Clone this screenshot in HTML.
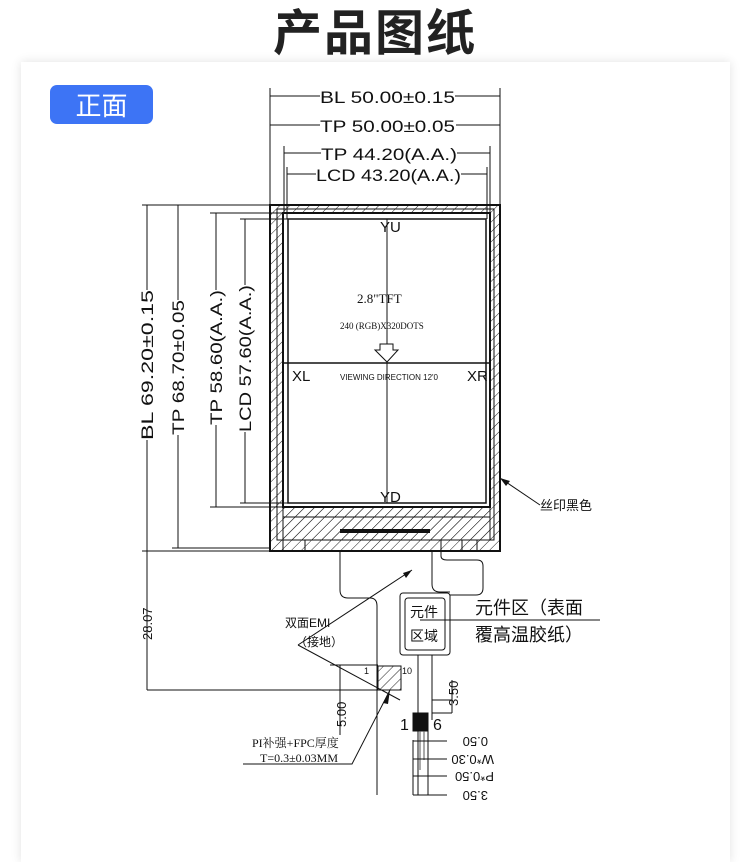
<!DOCTYPE html>
<html><head><meta charset="utf-8"><style>
body{margin:0;width:750px;height:827px;background:#fff;overflow:hidden;font-family:"Liberation Sans","Noto Sans CJK SC",sans-serif}
.card{position:absolute;left:21px;top:62px;width:709px;height:800px;background:#fff;box-shadow:0 0 10px rgba(0,0,0,0.12)}
.title{position:absolute;left:0;width:750px;top:-6px;text-align:center;font-size:49px;font-weight:bold;color:#222;letter-spacing:2px;font-family:"Noto Sans CJK SC",sans-serif}
.badge{position:absolute;left:50px;top:85px;width:103px;height:39px;background:#3d74f5;border-radius:7px;color:#fff;font-size:26px;text-align:center;line-height:39px;font-family:"Noto Sans CJK SC",sans-serif}
svg{position:absolute;left:0;top:0}
</style></head><body>
<div class="title">产品图纸</div>
<div class="card"></div>
<div class="badge">正面</div>
<svg width="750" height="827" viewBox="0 0 750 827" font-family="Liberation Sans, Noto Sans CJK SC, sans-serif">
<defs>
<pattern id="h" width="7" height="7" patternUnits="userSpaceOnUse" patternTransform="rotate(45)">
<line x1="0" y1="0" x2="0" y2="7" stroke="#222" stroke-width="1"/>
</pattern>
</defs>
<g stroke="#111" fill="none" stroke-width="1">
<path d="M270 205H500V551H270Z M283 213V507H490V213Z" fill="url(#h)" fill-rule="evenodd"/>
<path d="M283 507H490V540H283Z" fill="url(#h)"/>
<rect x="270" y="205" width="230" height="346" stroke-width="2"/>
<rect x="277" y="209" width="217" height="331"/>
<rect x="283" y="213" width="207" height="294" stroke-width="2"/>
<rect x="288" y="219" width="198" height="284" stroke-width="1.5"/>
<line x1="283" y1="517" x2="490" y2="517"/>
<line x1="340" y1="531" x2="430" y2="531" stroke-width="4"/>
<path d="M283 540V551M305 540V551 M462 540V551M477 540V551"/>
<line x1="387" y1="219" x2="387" y2="503"/>
<line x1="283" y1="363" x2="490" y2="363" stroke-width="1.5"/>
<path d="M380 344H393V350H398L387 362L375 350H380Z" fill="#fff"/>
<line x1="270" y1="88" x2="270" y2="205"/><line x1="500" y1="88" x2="500" y2="205"/>
<line x1="284" y1="146" x2="284" y2="213"/><line x1="490" y1="146" x2="490" y2="213"/>
<line x1="287" y1="167" x2="287" y2="219"/><line x1="487" y1="167" x2="487" y2="219"/>
<path d="M270 96H320M455 96H500 M270 125H320M456 125H500 M284 153H321M457 153H490 M287 174H316M461 174H487"/>
<path d="M142 205H270 M172 205H270 M210 213H283 M240 219H288 M142 551H270 M172 548H270 M210 507H283 M240 503H288"/>
<path d="M147 205V290M147 440V690 M178 205V300M178 435V548 M216 213V290M216 425V507 M245 219V285M245 432V503"/>
<path d="M340 551V590Q340 598 348 598H370Q377 598 377 606V795"/>
<path d="M432 551V584Q432 592 440 592H450"/>
<path d="M441 540V556Q441 560 447 560H477Q483 560 483 566V588Q483 595 476 595H450"/>
<rect x="400" y="593" width="50" height="62" rx="3"/>
<rect x="405" y="598" width="40" height="52" rx="3"/>
<path d="M418 655V795 M432 655V720 M428 731V795"/>
<rect x="378" y="666" width="23" height="24" fill="url(#h)"/>
<rect x="413" y="713" width="15" height="18" fill="#111"/>
<path d="M420 731V770M424 731V760" stroke="#555"/>
<path d="M147 690H400 M330 665H378 M340 665V735"/>
<path d="M432 700H452 M452 680V713 M432 713H452 M413 741H447 M413 759H447 M413 776H447 M413 795H447 M413 795V740"/>
<path d="M500 478L540 505"/>
<path d="M440 620H600 M420 620H440"/>
<path d="M298 645L412 570 M298 645L400 700"/>
<path d="M243 764H352L390 690"/>
</g>
<g fill="#111">
<path d="M500 478L510 481L506 486Z"/>
<path d="M412 570L403 573L406 578Z"/>
<path d="M390 690L383 703L388 704Z"/>
</g>
<g fill="#111" font-size="17">
<text x="320" y="103" textLength="135" lengthAdjust="spacingAndGlyphs">BL  50.00±0.15</text>
<text x="320" y="132" textLength="135" lengthAdjust="spacingAndGlyphs">TP  50.00±0.05</text>
<text x="321" y="160" textLength="136" lengthAdjust="spacingAndGlyphs">TP  44.20(A.A.)</text>
<text x="316" y="181" textLength="145" lengthAdjust="spacingAndGlyphs">LCD  43.20(A.A.)</text>
<text transform="translate(153,440) rotate(-90)" textLength="150" lengthAdjust="spacingAndGlyphs">BL  69.20±0.15</text>
<text transform="translate(184,435) rotate(-90)" textLength="135" lengthAdjust="spacingAndGlyphs">TP  68.70±0.05</text>
<text transform="translate(222,425) rotate(-90)" textLength="135" lengthAdjust="spacingAndGlyphs">TP  58.60(A.A.)</text>
<text transform="translate(251,432) rotate(-90)" textLength="147" lengthAdjust="spacingAndGlyphs">LCD  57.60(A.A.)</text>
<text transform="translate(152,640) rotate(-90)" font-size="13">28.07</text>
<text transform="translate(346,727) rotate(-90)" font-size="13">5.00</text>
<text transform="translate(458,706) rotate(-90)" font-size="13">3.50</text>
<text x="380" y="232" font-size="15">YU</text>
<text x="380" y="502" font-size="15">YD</text>
<text x="292" y="381" font-size="15">XL</text>
<text x="467" y="381" font-size="15">XR</text>
<text x="340" y="380" font-size="8">VIEWING DIRECTION 12'0</text>
<text x="357" y="303" font-size="13" font-family="Liberation Serif, serif">2.8"TFT</text>
<text x="340" y="329" font-size="9" font-family="Liberation Serif, serif">240 (RGB)X320DOTS</text>
<text x="540" y="510" font-size="13">丝印黑色</text>
<text x="410" y="617" font-size="14">元件</text>
<text x="410" y="641" font-size="14">区域</text>
<text x="475" y="614" font-size="18">元件区（表面</text>
<text x="475" y="641" font-size="18">覆高温胶纸）</text>
<text x="285" y="627" font-size="12">双面EMI</text>
<text x="295" y="646" font-size="12">（接地）</text>
<text x="364" y="674" font-size="9">1</text>
<text x="402" y="674" font-size="9">10</text>
<text x="400" y="730" font-size="16">1</text>
<text x="433" y="730" font-size="16">6</text>
<text x="252" y="747" font-size="12" font-family="Liberation Serif, Noto Serif CJK SC, serif">PI补强+FPC厚度</text>
<text x="260" y="762" font-size="12" font-family="Liberation Serif, serif">T=0.3±0.03MM</text>
<g font-size="13">
<text transform="translate(488,737) rotate(180)">0.50</text>
<text transform="translate(494,755) rotate(180)">W*0.30</text>
<text transform="translate(494,772) rotate(180)">P*0.50</text>
<text transform="translate(488,791) rotate(180)">3.50</text>
</g>
</g>
</svg>
</body></html>
